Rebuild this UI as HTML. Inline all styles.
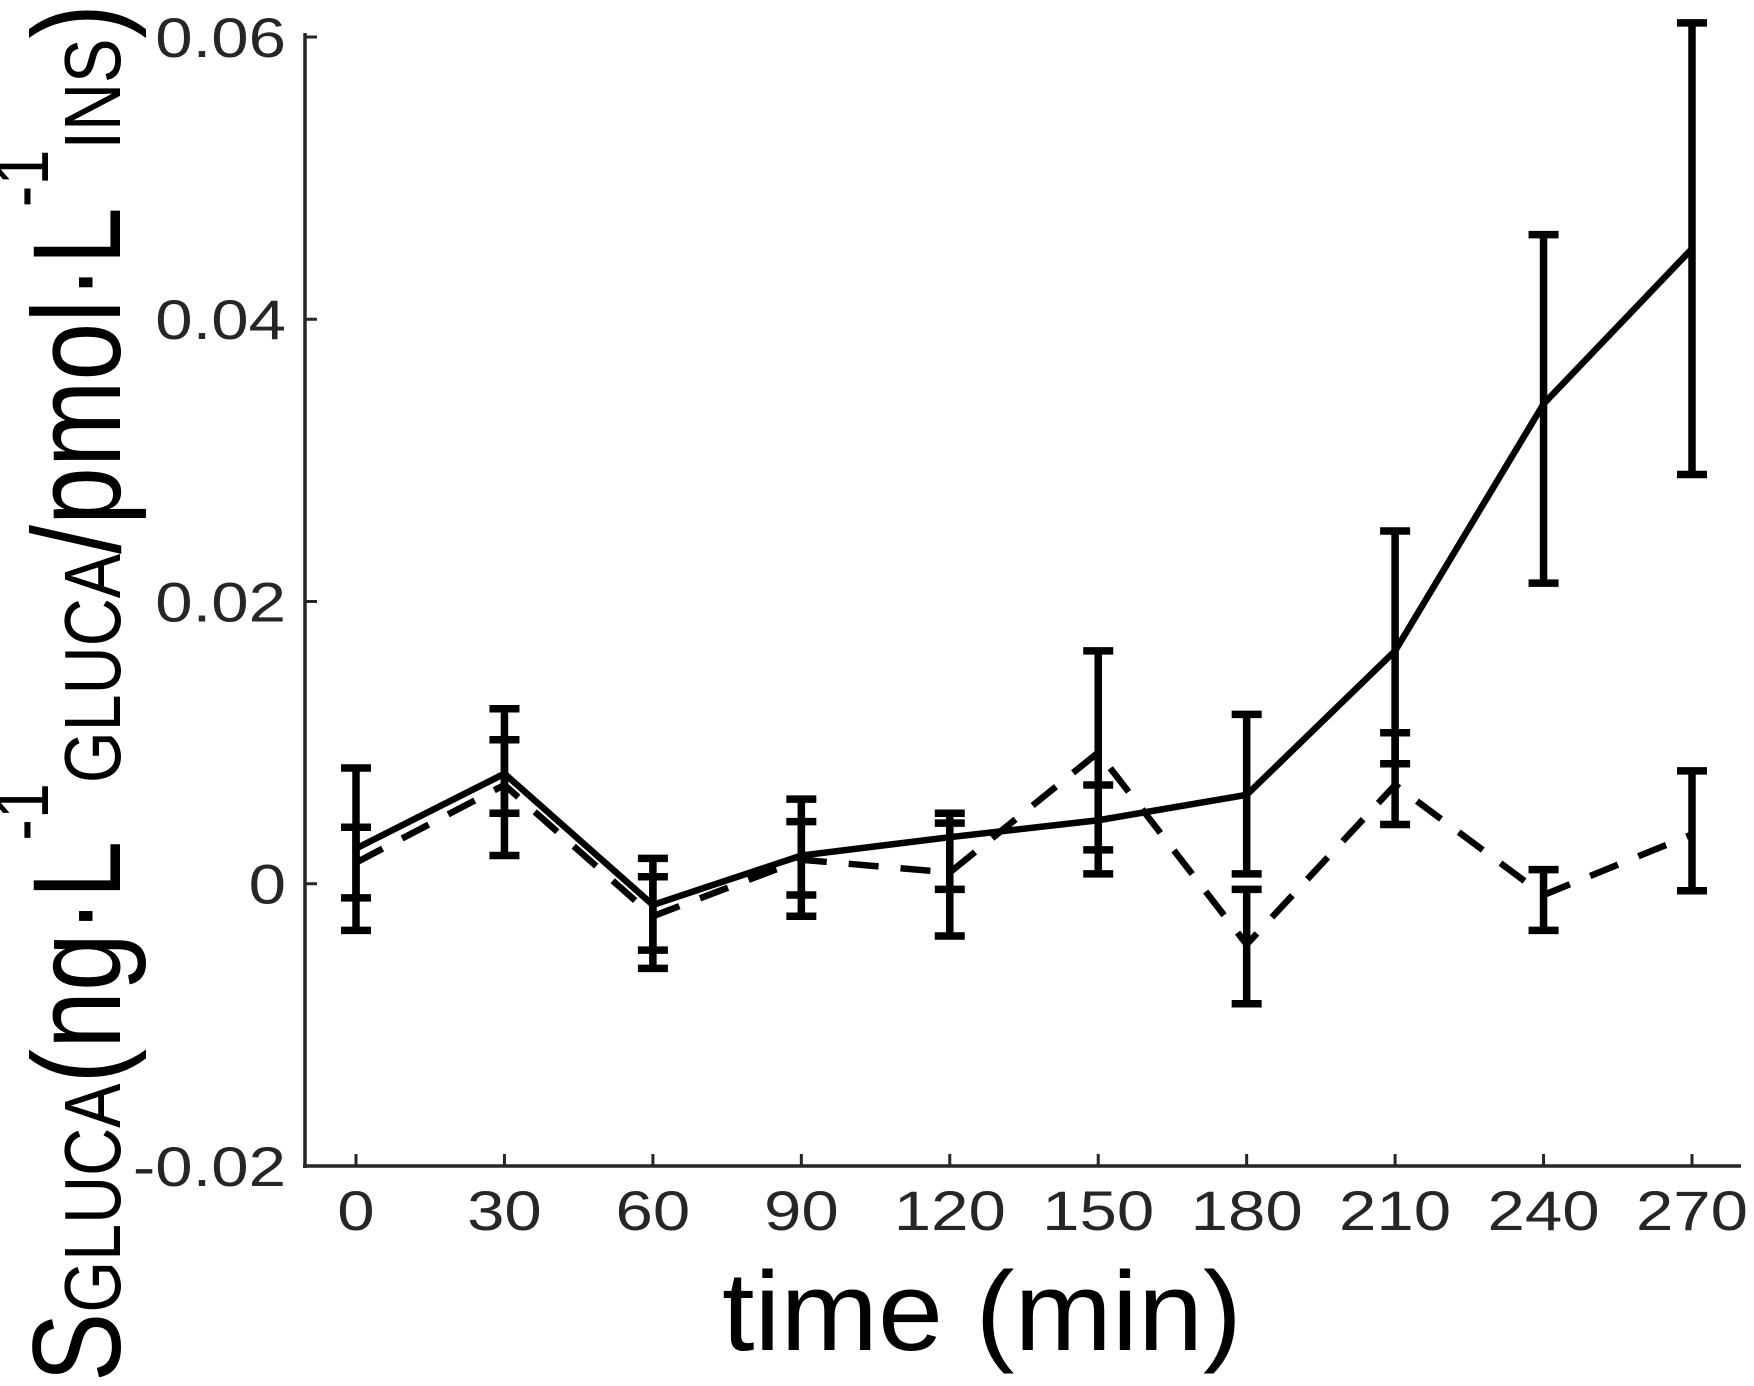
<!DOCTYPE html>
<html><head><meta charset="utf-8"><style>
html,body{margin:0;padding:0;background:#fff}
svg{display:block}
text{font-family:"Liberation Sans",sans-serif}
</style></head><body>
<svg id="chart" width="1754" height="1386" viewBox="0 0 1754 1386" xmlns="http://www.w3.org/2000/svg">
<g id="axes"></g>
<g id="series"></g>
<text x="982" y="1350" font-size="112" text-anchor="middle" fill="#000" textLength="520" lengthAdjust="spacingAndGlyphs">time (min)</text>
<text transform="translate(120,1382) rotate(-90)" font-size="125" fill="#000" textLength="1378" lengthAdjust="spacingAndGlyphs">S<tspan font-size="80">GLUCA</tspan><tspan>(ng·L</tspan><tspan font-size="78" dy="-72">-1</tspan><tspan font-size="80" dy="72">GLUCA</tspan><tspan>/pmol·L</tspan><tspan font-size="78" dy="-72">-1</tspan><tspan font-size="80" dy="72">INS</tspan><tspan>)</tspan></text>
</svg>
<script>
const times=[0,30,60,90,120,150,180,210,240,270];
const solidVals=[0.0025,0.0078,-0.0015,0.002,0.0033,0.0045,0.0063,0.0165,0.034,0.045];
const solidLo=[-0.0033,0.002,-0.0047,-0.0023,-0.0037,0.0024,0.0007,0.0085,0.0213,0.029];
const solidHi=[0.0082,0.0124,0.0018,0.006,0.005,0.007,0.012,0.025,0.046,0.061];
const dashVals=[0.0015,0.007,-0.0023,0.0017,0.0008,0.0093,-0.0043,0.007,-0.0008,0.0035];
const dashLo=[-0.001,0.005,-0.006,-0.0008,-0.0004,0.0007,-0.0085,0.0042,-0.0033,-0.0005];
const dashHi=[0.004,0.0102,0.0005,0.0044,0.0043,0.0165,-0.0004,0.0107,0.001,0.008];
const yTicks=[-0.02,0,0.02,0.04,0.06];
const yTickLabels=["-0.02","0","0.02","0.04","0.06"];
const xTickLabels=["0","30","60","90","120","150","180","210","240","270"];

const NS="http://www.w3.org/2000/svg";
const X=t=>356+(t/270)*(1692-356);
const Y=v=>1166-(v+0.02)/0.08*(1166-37);
const SX=1.2;
function mk(tag,attrs,parent){const e=document.createElementNS(NS,tag);for(const k in attrs)e.setAttribute(k,attrs[k]);parent.appendChild(e);return e;}
const axes=document.getElementById('axes'),series=document.getElementById('series');
let e=mk('line',{x1:305,y1:33,x2:305,y2:1168,stroke:'#262626','stroke-width':3.5},axes);


e=mk('line',{x1:303,y1:1166,x2:1741,y2:1166,stroke:'#262626','stroke-width':3.5},axes);


yTicks.forEach((v,i)=>{
  const t=mk('line',{x1:305,y1:Y(v),x2:317,y2:Y(v),stroke:'#262626','stroke-width':3},axes);
  
  
  const l=mk('text',{x:286/SX,y:Y(v)+20,'font-size':56,'text-anchor':'end',fill:'#262626',transform:'scale('+SX+',1)'},axes);
  l.textContent=yTickLabels[i];
  
  
});
times.forEach((t,i)=>{
  const k=mk('line',{x1:X(t),y1:1166,x2:X(t),y2:1154,stroke:'#262626','stroke-width':3},axes);
  
  
  const l=mk('text',{x:X(t)/SX,y:1230,'font-size':56,'text-anchor':'middle',fill:'#262626',transform:'scale('+SX+',1)'},axes);
  l.textContent=xTickLabels[i];
  
  
});
function drawSeries(vals,lo,hi,dash,name){
  const pts=times.map((t,i)=>X(t)+','+Y(vals[i])).join(' ');
  const p=mk('polyline',{points:pts,fill:'none',stroke:'#000','stroke-width':6.5,'stroke-dasharray':dash?'30 22':'none'},series);
  
  
  times.forEach((t,i)=>{
    const g=mk('g',{},series);
    
    
    const x=X(t);
    mk('line',{x1:x,y1:Y(lo[i]),x2:x,y2:Y(hi[i]),stroke:'#000','stroke-width':7.5},g);
    mk('line',{x1:x-15,y1:Y(lo[i]),x2:x+15,y2:Y(lo[i]),stroke:'#000','stroke-width':7.5},g);
    mk('line',{x1:x-15,y1:Y(hi[i]),x2:x+15,y2:Y(hi[i]),stroke:'#000','stroke-width':7.5},g);
  });
}
drawSeries(dashVals,dashLo,dashHi,true,'dashed-series');
drawSeries(solidVals,solidLo,solidHi,false,'solid-series');
</script>
</body></html>
